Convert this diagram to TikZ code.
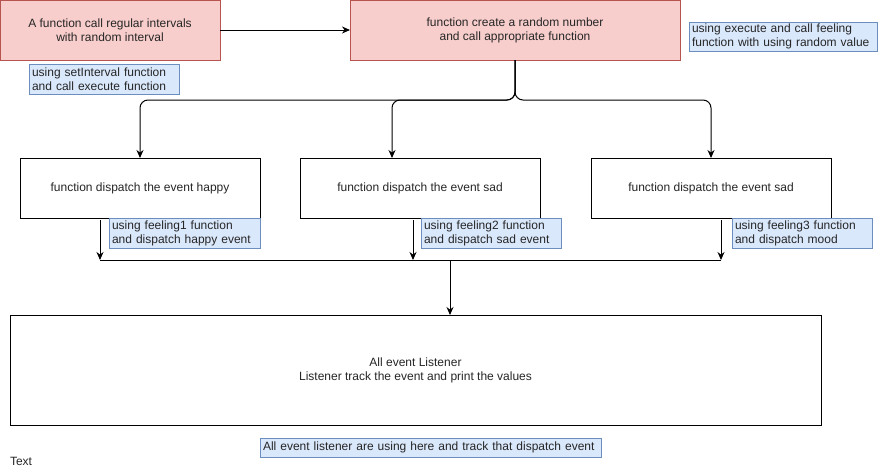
\documentclass[tikz,border=0pt]{standalone}
\usepackage{fontspec}
\setmainfont{Liberation Sans}
\usetikzlibrary{arrows.meta}
\definecolor{redfill}{HTML}{F8CECC}
\definecolor{redline}{HTML}{B85450}
\definecolor{bluefill}{HTML}{DAE8FC}
\definecolor{blueline}{HTML}{6C8EBF}
\begin{document}
\begin{tikzpicture}[x=1pt,y=-1pt,
  font=\fontsize{12}{14}\selectfont,
  every node/.style={inner sep=0pt, outer sep=0pt},
  redbox/.style={draw=redline, fill=redfill, line width=1pt, align=center, text=black!85},
  plainbox/.style={draw=black, line width=1pt, align=center, text=black!85},
  notebox/.style={draw=blueline, fill=bluefill, line width=1pt, align=left, anchor=north west, inner xsep=3pt, text=black!85},
  conn/.style={draw=black, line width=1pt},
  arr/.style={conn, -{Stealth[length=8pt,width=7pt]}}
]
\useasboundingbox (0,0) rectangle (880,471);
\fill[white] (0,0) rectangle (880,471);

% top boxes
\node[redbox, minimum width=220pt, minimum height=60pt] (a) at (110,30) {A function call regular intervals\\with random interval};
\node[redbox, minimum width=330pt, minimum height=60pt] (b) at (515,30) {function create a random number\\and call appropriate function};

% notes
\node[notebox, minimum width=150pt, minimum height=30pt, text width=144pt] (n1) at (29,64) {using setInterval function\\and call execute function};
\node[notebox, minimum width=188pt, minimum height=29pt, text width=182pt] (n2) at (689,22) {using execute and call feeling\\function with using random value};

% middle boxes
\node[plainbox, minimum width=240pt, minimum height=60pt] (c1) at (140,188) {function dispatch the event happy};
\node[plainbox, minimum width=240pt, minimum height=60pt] (c2) at (420,188) {function dispatch the event sad};
\node[plainbox, minimum width=240pt, minimum height=60pt] (c3) at (711,188) {function dispatch the event sad};

\node[notebox, minimum width=151pt, minimum height=30pt, text width=145pt] (m1) at (109,218) {using feeling1 function\\and dispatch happy event};
\node[notebox, minimum width=140pt, minimum height=30pt, text width=134pt] (m2) at (421,218) {using feeling2 function\\and dispatch sad event};
\node[notebox, minimum width=140pt, minimum height=30pt, text width=134pt] (m3) at (732,218) {using feeling3 function\\and dispatch mood};

% listener
\node[plainbox, minimum width=811pt, minimum height=110pt] (l) at (415.5,370) {All event Listener\\Listener track the event and print the values};
\node[notebox, minimum width=341pt, minimum height=19pt, text width=335pt] (n3) at (260,438) {All event listener are using here and track that dispatch event};
\node[anchor=west, text=black!85] (t) at (10,461) {Text};

% coordinates
\coordinate (c2in) at (392,158);
\coordinate (j) at (515,100);
\coordinate (o1) at (100,220);
\coordinate (o2) at (413,220);
\coordinate (o3) at (721,220);
\coordinate (e1) at (100,260);
\coordinate (e2) at (413,260);
\coordinate (e3) at (721,260);
\coordinate (s) at (450,260);

% connectors
\draw[arr] (a.east) -- (b.west);
\draw[arr, rounded corners=8pt] (b.south) -- (j) -| (c1.north);
\draw[arr, rounded corners=8pt] (b.south) -- (j) -| (c2in);
\draw[arr, rounded corners=8pt] (b.south) -- (j) -| (c3.north);

\draw[arr] (o1) -- (e1);
\draw[arr] (o2) -- (e2);
\draw[arr] (o3) -- (e3);
\draw[conn] (e1) -- (e3);
\draw[arr] (s) -- (s |- l.north);
\end{tikzpicture}
\end{document}
